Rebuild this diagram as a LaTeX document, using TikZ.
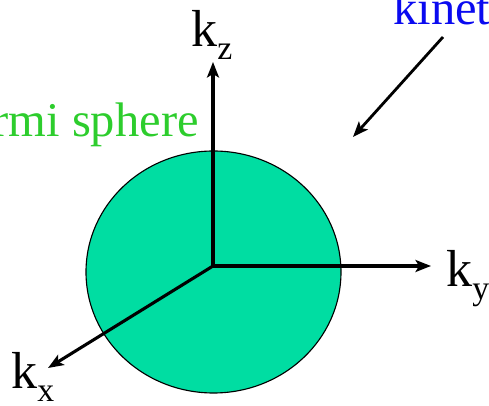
\documentclass[tikz,border=0pt]{standalone}
\usepackage{fontspec}
\setmainfont{Liberation Serif}
\newfontfamily\labelfont{Liberation Serif}
\usetikzlibrary{arrows.meta}
\definecolor{spherefill}{RGB}{0,221,162}
\definecolor{labelgreen}{RGB}{45,205,45}
\definecolor{labelblue}{RGB}{10,10,240}
\newcommand\kcomp[1]{k\raisebox{-0.24em}{\fontsize{24}{24}\selectfont #1}}

\begin{document}
\begin{tikzpicture}[x=0.025cm, y=-0.025cm,
    axis/.style={line width=2.2pt, -{Stealth[length=11pt, width=8.5pt, inset=2.5pt]}},
    bigtext/.style={inner sep=0pt, font=\labelfont\fontsize{34.5}{34.5}\selectfont},
    axlabel/.style={inner sep=0pt, anchor=base west, font=\labelfont\fontsize{37}{37}\selectfont}]
    % frame
    \useasboundingbox (0,0) rectangle (489,406);
    \clip (0,0) rectangle (489,406);

    % Fermi sphere
    \draw[fill=spherefill, line width=0.8pt] (213.5,272) ellipse [x radius=127.5, y radius=121];
    \node[bigtext, anchor=base east, labelgreen] (fermi) at (199,137) {Fermi sphere};

    % Axes
    \coordinate (O) at (213,266);
    \coordinate (kzend) at (213,62);
    \coordinate (kyend) at (431,266);
    \coordinate (kxend) at (48,368);
    \draw[axis] (O) -- (kzend);
    \draw[axis] (O) -- (kyend);
    \draw[axis] (O) -- (kxend);
    \node[axlabel] (kz) at (191,47) {\kcomp{z}};
    \node[axlabel] (ky) at (446,287) {\kcomp{y}};
    \node[axlabel] (kx) at (11,389) {\kcomp{x}};

    % Kinetic label
    \node[bigtext, anchor=base west, labelblue] (kin) at (393,25) {kinetic};
    \coordinate (kinstart) at (443,37);
    \coordinate (kintip) at (353,137);
    \draw[axis, line width=2pt] (kinstart) -- (kintip);
\end{tikzpicture}
\end{document}
